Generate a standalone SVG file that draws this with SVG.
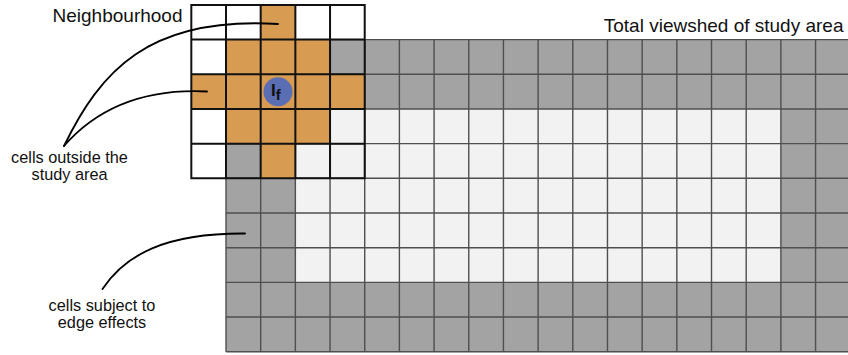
<svg xmlns="http://www.w3.org/2000/svg" width="848" height="355" viewBox="0 0 848 355">
  <style>
    .lbl { font-family: "Liberation Sans", Arial, Helvetica, sans-serif; fill: #111; }
    .big { font-size: 19px; }
    .small { font-size: 16.3px; text-anchor: middle; }
    .edge { fill: #a2a3a2; }
    .inner { fill: #f2f2f2; }
    .biglines { fill: none; stroke: #4f4f4f; stroke-width: 1.4; }
    .nbr { fill: #d89b52; }
    .nbrlines { fill: none; stroke: #111; stroke-width: 2; stroke-linecap: square; }
    .conn { fill: none; stroke: #000; stroke-width: 1.8; stroke-linecap: round; }
  </style>

  <rect width="848" height="355" fill="#ffffff"/>

  <g id="study-area-grid">
    <rect class="edge" x="226" y="39.6" width="624.24" height="312.12"/>
    <rect class="inner" x="295.36" y="108.96" width="485.52" height="173.4"/>
    <path class="biglines" d="M226,39.6V351.72 M260.68,39.6V351.72 M295.36,39.6V351.72 M330.04,39.6V351.72 M364.72,39.6V351.72 M399.4,39.6V351.72 M434.08,39.6V351.72 M468.76,39.6V351.72 M503.44,39.6V351.72 M538.12,39.6V351.72 M572.8,39.6V351.72 M607.48,39.6V351.72 M642.16,39.6V351.72 M676.84,39.6V351.72 M711.52,39.6V351.72 M746.2,39.6V351.72 M780.88,39.6V351.72 M815.56,39.6V351.72 M226,39.6H850.24 M226,74.28H850.24 M226,108.96H850.24 M226,143.64H850.24 M226,178.32H850.24 M226,213H850.24 M226,247.68H850.24 M226,282.36H850.24 M226,317.04H850.24 M226,351.72H850.24"/>
  </g>

  <g id="neighbourhood-grid">
    <rect fill="#ffffff" x="191.32" y="4.92" width="173.4" height="34.68"/>
    <rect fill="#ffffff" x="191.32" y="39.6" width="34.68" height="138.72"/>
    <path class="nbr" d="M260.68,4.92H295.36V39.6H330.04V74.28H364.72V108.96H330.04V143.64H295.36V178.32H260.68V143.64H226V108.96H191.32V74.28H226V39.6H260.68Z"/>
    <path class="nbrlines" d="M191.32,4.92V178.32 M226,4.92V178.32 M260.68,4.92V178.32 M295.36,4.92V178.32 M330.04,4.92V178.32 M364.72,4.92V178.32 M191.32,4.92H364.72 M191.32,39.6H364.72 M191.32,74.28H364.72 M191.32,108.96H364.72 M191.32,143.64H364.72 M191.32,178.32H364.72"/>
  </g>

  <g id="focal-cell">
    <circle cx="278" cy="91.8" r="14.5" fill="#5b6db3"/>
    <text class="lbl" x="271" y="95.5" font-size="17" font-weight="bold">I<tspan font-size="15" dy="4.5">f</tspan></text>
  </g>

  <g id="connectors">
    <path class="conn" d="M64,146 C100,72 148,16 278,24"/>
    <path class="conn" d="M64,146 C92,114 135,88 207,91.5"/>
    <path class="conn" d="M102.5,289 C125,255 165,233 245,233.5"/>
  </g>

  <g id="labels">
    <text id="label-neighbourhood" class="lbl big" x="182.5" y="21.5" text-anchor="end">Neighbourhood</text>
    <text id="label-viewshed" class="lbl big" x="843.5" y="31.7" text-anchor="end">Total viewshed of study area</text>
    <text id="label-outside" class="lbl small"><tspan x="69.5" y="162.7">cells outside the</tspan><tspan x="69.5" y="180.2">study area</tspan></text>
    <text id="label-edge" class="lbl small"><tspan x="102" y="310.7">cells subject to</tspan><tspan x="102" y="328.3">edge effects</tspan></text>
  </g>
</svg>
